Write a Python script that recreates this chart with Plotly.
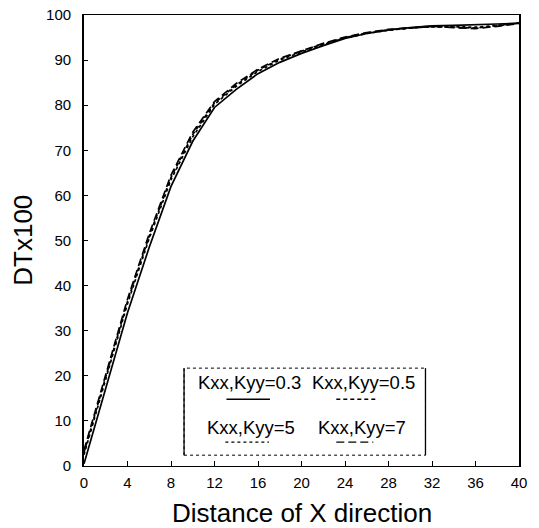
import plotly.graph_objects as go

x_vals = [0, 2, 4, 6, 8, 10, 12, 14, 16, 18, 20, 22, 24, 26, 28, 30, 32, 34, 36, 38, 40]
k03 = [0.5, 17.5, 34, 48.5, 62, 72, 79.5, 83.5, 87, 89.5, 91.5, 93.2, 94.8, 95.9, 96.7, 97.2, 97.6, 97.7, 97.8, 98.0, 98.2]
k05 = [3, 20, 36.5, 51, 64, 73.5, 80.5, 84.5, 87.8, 90.2, 92, 93.6, 95.0, 96.0, 96.7, 97.1, 97.4, 97.3, 97.1, 97.6, 98.2]
k5 = [2.5, 19.5, 36, 50.5, 63.5, 73, 80.2, 84.2, 87.5, 90, 91.8, 93.4, 94.9, 95.9, 96.6, 97.1, 97.4, 97.4, 97.3, 97.7, 98.2]
k7 = [3.5, 20.5, 37, 51.5, 64.5, 74, 80.8, 84.8, 88, 90.4, 92.1, 93.7, 95.1, 96.1, 96.8, 97.2, 97.5, 97.2, 97.0, 97.5, 98.1]

series = [
    ("Kxx,Kyy=0.3", k03, "solid"),
    ("Kxx,Kyy=0.5", k05, "4px,3px"),
    ("Kxx,Kyy=5", k5, "dot"),
    ("Kxx,Kyy=7", k7, "8px,4px"),
]

x_ticks = [0, 4, 8, 12, 16, 20, 24, 28, 32, 36, 40]
y_ticks = [0, 10, 20, 30, 40, 50, 60, 70, 80, 90, 100]

FONT = "Liberation Sans, Arial, sans-serif"

fig = go.Figure()
for name, vals, dash in series:
    fig.add_trace(go.Scatter(x=x_vals, y=vals, mode="lines", name=name,
                             line=dict(color="black", width=1.7, dash=dash)))

# legend box (drawn manually: samples sit under the labels)
fig.add_shape(type="rect", xref="x", yref="y", x0=9.2, x1=31.4, y0=2.4, y1=21.7,
              line=dict(color="black", width=1, dash="dot"), fillcolor="white", layer="below")
fig.add_shape(type="line", xref="x", yref="y", x0=9.2, x1=9.2, y0=2.4, y1=21.7,
              line=dict(color="black", width=1.3))
fig.add_shape(type="line", xref="x", yref="y", x0=31.4, x1=31.4, y0=2.4, y1=21.7,
              line=dict(color="black", width=1.3))
leg_pos = [(15.2, 18.6, 13.1, 17.1, 14.8), (25.7, 18.6, 23.2, 26.9, 14.8),
           (15.4, 8.6, 13.0, 17.0, 5.3), (25.6, 8.6, 23.2, 26.6, 5.3)]
for (name, vals, dash), (tx, ty, lx0, lx1, ly) in zip(series, leg_pos):
    fig.add_annotation(x=tx, y=ty, xref="x", yref="y", text=name, showarrow=False,
                       font=dict(family=FONT, size=18.5, color="black"))
    fig.add_shape(type="line", xref="x", yref="y", x0=lx0, x1=lx1, y0=ly, y1=ly,
                  line=dict(color="black", width=1.3, dash=dash))

# axis titles
fig.add_annotation(text="DTx100", xref="paper", yref="paper", x=-0.141, y=0.501,
                   textangle=-90, showarrow=False, xanchor="center", yanchor="middle",
                   font=dict(family=FONT, size=26, color="black"))
fig.add_annotation(text="Distance of X direction", xref="paper", yref="paper", x=0.5, y=-0.104,
                   showarrow=False, xanchor="center", yanchor="middle",
                   font=dict(family=FONT, size=26, color="black"))

fig.update_layout(
    width=539, height=528,
    margin=dict(l=84, r=20, t=15, b=62),
    paper_bgcolor="white", plot_bgcolor="white",
    showlegend=False,
    font=dict(family=FONT, color="black"),
    xaxis=dict(range=[0, 40], tickvals=x_ticks, ticktext=[str(v) for v in x_ticks],
               ticks="inside", ticklen=5, tickcolor="black", showgrid=False, zeroline=False,
               showline=True, linecolor="black", linewidth=1.2, mirror=True,
               automargin=False, ticklabelstandoff=3,
               tickfont=dict(family=FONT, size=15, color="black")),
    yaxis=dict(range=[0, 100], tickvals=y_ticks, ticktext=[str(v) for v in y_ticks],
               ticks="inside", ticklen=4, tickcolor="black", showgrid=False, zeroline=False,
               showline=True, linecolor="black", linewidth=1.8, mirror=True,
               automargin=False, ticklabelstandoff=8,
               tickfont=dict(family=FONT, size=15, color="black")),
)

fig.write_html("out.html", config={"displayModeBar": False},
               post_script="document.body.style.margin='0';")
